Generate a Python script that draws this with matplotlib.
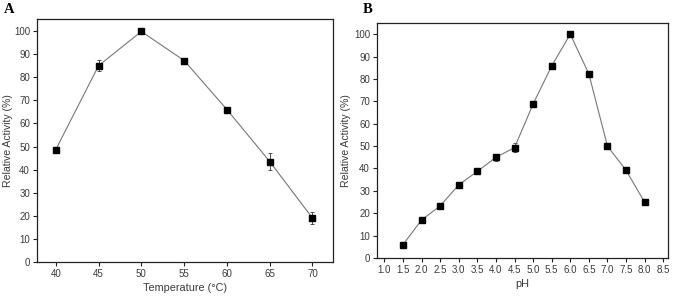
import matplotlib
matplotlib.use("Agg")
import matplotlib.pyplot as plt

plt.rcParams["font.family"] = ["Liberation Sans", "DejaVu Sans"]

# ── data ──────────────────────────────────────────────────────────────────────
temp      = [40, 45, 50, 55, 60, 65, 70]
temp_act  = [48.7, 85.0, 99.8, 87.2, 66.0, 43.5, 19.0]
temp_err  = [0.6, 2.3, 0.4, 1.2, 0.5, 3.5, 2.7]

ph        = [1.5, 2.0, 2.5, 3.0, 3.5, 4.0, 4.5, 5.0, 5.5, 6.0, 6.5, 7.0, 7.5, 8.0]
ph_act    = [6.0, 17.0, 23.3, 32.7, 38.7, 45.0, 49.3, 68.8, 85.8, 100.0, 82.3, 50.0, 39.2, 25.0]
ph_err    = [0.4, 0.5, 0.6, 0.5, 0.6, 1.6, 2.1, 0.5, 0.5, 0.3, 0.6, 0.5, 0.5, 0.5]

temp_ticks = [40, 45, 50, 55, 60, 65, 70]
ph_ticks   = [1.0, 1.5, 2.0, 2.5, 3.0, 3.5, 4.0, 4.5, 5.0, 5.5, 6.0, 6.5, 7.0, 7.5, 8.0, 8.5]
y_ticks    = list(range(0, 101, 10))

TXT = "#3a3a3a"

fig = plt.figure(figsize=(6.75, 2.98), dpi=100)
axA = fig.add_axes([37 / 675, 1 - 262 / 298, 296 / 675, 243 / 298])
axB = fig.add_axes([377 / 675, 1 - 258 / 298, 291 / 675, 235 / 298])


def style(ax, pad):
    for s in ax.spines.values():
        s.set_linewidth(0.9)
        s.set_color("#222222")
    ax.tick_params(direction="out", length=3, width=0.8, labelsize=7,
                   colors="#222222", labelcolor=TXT, pad=2,
                   top=False, right=False)
    ax.set_yticks(y_ticks)
    ax.set_ylabel("Relative Activity (%)", fontsize=7.6, color=TXT, labelpad=pad)


# panel A
axA.errorbar(temp, temp_act, yerr=temp_err, color="#777777", lw=0.8,
             marker="s", ms=4, mfc="black", mec="black",
             ecolor="#333333", elinewidth=0.6, capsize=1.5, capthick=0.6)
axA.set_xlim(37.8, 72.4)
axA.set_ylim(0, 105.2)
axA.set_xticks(temp_ticks)
style(axA, 0.5)
axA.set_xlabel("Temperature (°C)", fontsize=7.8, color=TXT, labelpad=3)

# panel B
axB.errorbar(ph, ph_act, yerr=ph_err, color="#777777", lw=0.8,
             marker="s", ms=4, mfc="black", mec="black",
             ecolor="#333333", elinewidth=0.6, capsize=1.5, capthick=0.6)
axB.set_xlim(0.8, 8.63)
axB.set_ylim(0, 105)
axB.set_xticks(ph_ticks)
axB.set_xticklabels([f"{v:.1f}" for v in ph_ticks])
style(axB, 2)
axB.set_xlabel("pH", fontsize=7.8, color=TXT, labelpad=3)

fig.text(4 / 675, 1 - 3 / 298, "A", fontsize=10.5, fontweight="bold",
         family="Liberation Serif", va="top", ha="left")
fig.text(363 / 675, 1 - 3 / 298, "B", fontsize=10.5, fontweight="bold",
         family="Liberation Serif", va="top", ha="left")

fig.savefig("out.png", dpi=100, facecolor="white")
